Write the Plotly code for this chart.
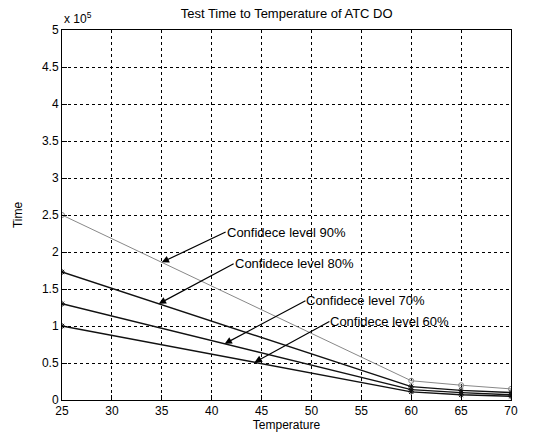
import plotly.graph_objects as go

temps = [25, 60, 65, 70]
conf90 = [2.50, 0.26, 0.20, 0.15]
conf80 = [1.73, 0.18, 0.13, 0.10]
conf70 = [1.30, 0.14, 0.10, 0.07]
conf60 = [1.00, 0.11, 0.07, 0.05]

x_ticks = [25, 30, 35, 40, 45, 50, 55, 60, 65, 70]
y_ticks = [0, 0.5, 1, 1.5, 2, 2.5, 3, 3.5, 4, 4.5, 5]
y_tick_text = ["0", "0.5", "1", "1.5", "2", "2.5", "3", "3.5", "4", "4.5", "5"]

labels = ["Confidece level 90%", "Confidece level 80%", "Confidece level 70%", "Confidece level 60%"]
# (arrow head x, text x, text y) in data units
head_x = [35.0, 34.7, 41.3, 44.3]
text_pos = [(41.4, 2.27), (42.2, 1.84), (49.4, 1.34), (51.8, 1.06)]

series = [conf90, conf80, conf70, conf60]
colors = ["#888888", "#111111", "#111111", "#111111"]
widths = [1, 1.4, 1.4, 1.4]
symbols = ["circle-open", "asterisk-open", "asterisk-open", "asterisk-open"]

FONT = "Liberation Sans, Arial"

fig = go.Figure()
for s, c, w, sym, name in zip(series, colors, widths, symbols, labels):
    fig.add_trace(go.Scatter(x=temps, y=s, mode="lines+markers", name=name,
                             line=dict(color=c, width=w),
                             marker=dict(symbol=sym, size=5, color=c, line=dict(color=c, width=1))))

def interp(xs, ys, x):
    for i in range(len(xs) - 1):
        if xs[i] <= x <= xs[i + 1]:
            t = (x - xs[i]) / (xs[i + 1] - xs[i])
            return ys[i] + t * (ys[i + 1] - ys[i])
    return ys[-1]

for s, hx, (tx, ty), lab in zip(series, head_x, text_pos, labels):
    hy = interp(temps, s, hx)
    fig.add_annotation(x=hx, y=hy, ax=tx, ay=ty, axref="x", ayref="y",
                       xref="x", yref="y", showarrow=True, arrowhead=2, arrowsize=1.2,
                       arrowwidth=1.2, arrowcolor="black", text=lab,
                       xanchor="left", yanchor="middle", borderpad=0,
                       font=dict(family=FONT, size=13, color="black"))

fig.add_annotation(x=0, y=1, xref="paper", yref="paper", text="x 10<sup>5</sup>",
                   showarrow=False, xanchor="left", yanchor="bottom", yshift=2,
                   font=dict(family=FONT, size=12, color="black"))

axis_common = dict(showline=True, linecolor="black", linewidth=1, mirror=True,
                   ticks="inside", ticklen=5, tickcolor="black",
                   showgrid=True, gridcolor="black", gridwidth=1, griddash="dot",
                   zeroline=False,
                   tickfont=dict(family=FONT, size=12, color="black"))

fig.update_layout(
    width=546, height=441,
    margin=dict(l=62, r=35, t=30, b=38),
    paper_bgcolor="white", plot_bgcolor="white",
    showlegend=False,
    title=dict(text="Test Time to Temperature of ATC DO", x=0.525, xanchor="center",
               y=0.970, yanchor="middle",
               font=dict(family=FONT, size=13, color="black")),
    xaxis=dict(range=[25, 70], tickvals=x_ticks,
               title=dict(text="Temperature", standoff=2,
                          font=dict(family=FONT, size=12, color="black")),
               **axis_common),
    yaxis=dict(range=[0, 5], tickvals=y_ticks, ticktext=y_tick_text,
               title=dict(text="Time", standoff=16,
                          font=dict(family=FONT, size=12, color="black")),
               **axis_common),
)

fig.write_html("out.html")
